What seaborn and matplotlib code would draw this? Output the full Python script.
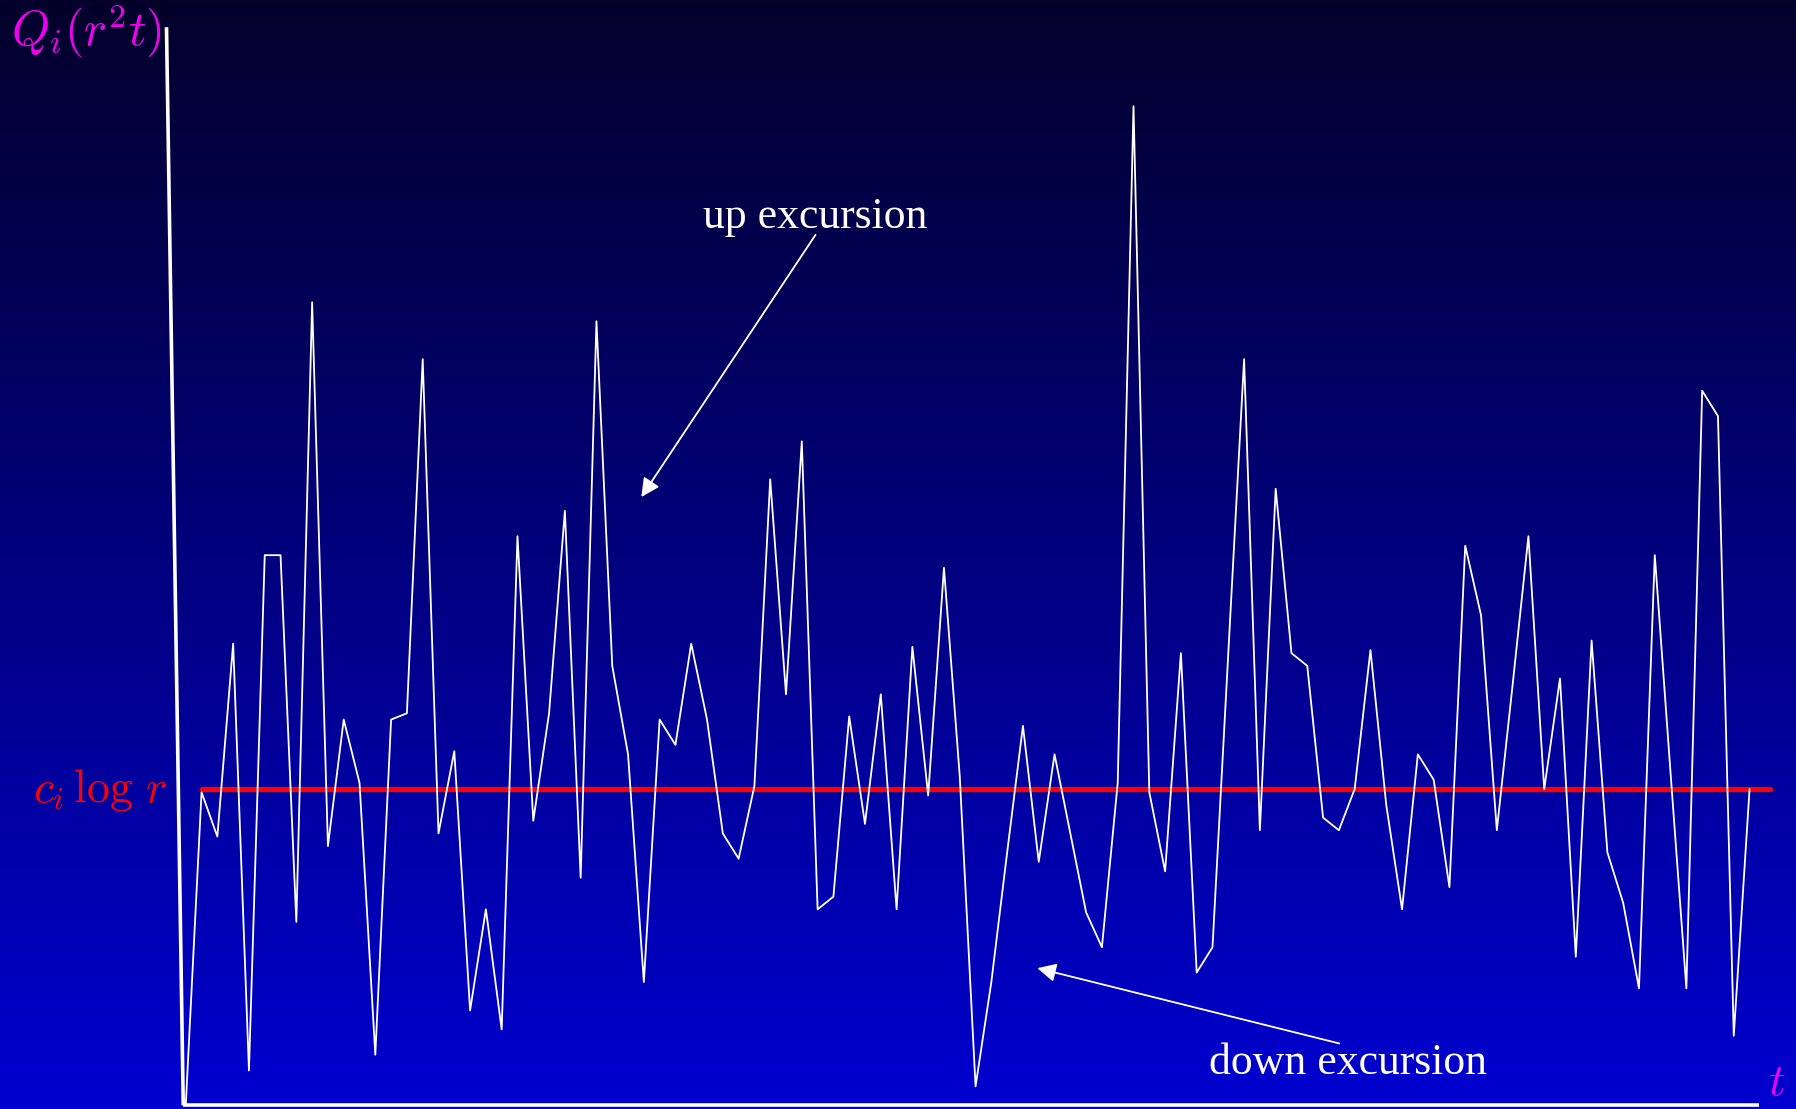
import matplotlib
matplotlib.use("Agg")
import matplotlib.pyplot as plt
import seaborn as sns
import numpy as np
from matplotlib.colors import LinearSegmentedColormap

# Sample path Q_i(r^2 t) (arbitrary units, c_i log r = 100)
t = np.arange(100)
q = [0, 99, 85, 146, 11, 174, 174, 58, 254, 82,
     122, 102, 16, 122, 124, 236, 86, 112, 30, 62,
     24, 180, 90, 124, 188, 72, 248, 139, 111, 39,
     122, 114, 146, 122, 86, 78, 101, 198, 130, 210,
     62, 66, 123, 89, 130, 62, 145, 98, 170, 104,
     6, 39, 80, 120, 77, 111, 86, 61, 50, 102,
     316, 99, 74, 143, 42, 50, 143, 236, 87, 195,
     143, 139, 91, 87, 100, 144, 95, 62, 111, 103,
     69, 177, 155, 87, 133, 180, 100, 135, 47, 147,
     80, 64, 37, 174, 105, 37, 226, 218, 22, 100]
level = 100          # c_i log r
level_span = (1.0, 100.3)

# Axis limits (axes fill the whole figure)
x_min, x_max = -11.76, 101.94
y_min, y_max = -1.17, 349.6
yaxis_x = (-1.22, -0.16)
yaxis_top = 341
xaxis_end = 99.6

sns.set_style("white")
plt.rcParams["mathtext.fontset"] = "cm"

fig = plt.figure(figsize=(17.96, 11.09), dpi=100)
ax = fig.add_axes([0, 0, 1, 1])

# vertical gradient background
cmap = LinearSegmentedColormap.from_list("bg", ["#0000d0", "#03002a"])
grad = np.linspace(0, 1, 256).reshape(-1, 1)
ax.imshow(grad, cmap=cmap, aspect="auto", origin="lower",
          extent=(x_min, x_max, y_min, y_max), zorder=0)

# axes drawn by hand
ax.plot(yaxis_x, [yaxis_top, 0], color="white", lw=2.6, zorder=3,
        solid_capstyle="butt")
ax.plot([yaxis_x[1], xaxis_end], [0, 0], color="white", lw=2.6, zorder=3,
        solid_capstyle="butt")

# level line
ax.plot(level_span, [level, level], color="#ff0000", lw=3.8, zorder=2,
        solid_capstyle="round")

# the path
sns.lineplot(x=t, y=q, color="white", lw=1.3, ax=ax, zorder=4)

ax.set_xlim(x_min, x_max)
ax.set_ylim(y_min, y_max)
ax.axis("off")

# labels
ax.text(0.0064, 0.9594, r"$Q_i(r^2t)$", color="#f000f0", fontsize=35,
        ha="left", va="baseline", transform=ax.transAxes)
ax.text(0.093, 0.2777, r"$c_i\,\log\,r$", color="#ff0000", fontsize=33,
        ha="right", va="baseline", transform=ax.transAxes)
ax.text(0.9844, 0.0126, r"$t$", color="#f000f0", fontsize=33,
        ha="left", va="baseline", transform=ax.transAxes)

# annotations
ax.text(0.4541, 0.7944, "up excursion", color="white", fontsize=31.5,
        family="Liberation Serif", ha="center", va="baseline",
        transform=ax.transAxes)
ax.annotate("", xy=(0.3571, 0.5518), xytext=(0.4541, 0.7883),
            xycoords="axes fraction", textcoords="axes fraction",
            arrowprops=dict(arrowstyle="-|>", color="white", lw=1.3,
                            mutation_scale=28, shrinkA=0, shrinkB=0))
ax.text(0.7506, 0.0315, "down excursion", color="white", fontsize=31.5,
        family="Liberation Serif", ha="center", va="baseline",
        transform=ax.transAxes)
ax.annotate("", xy=(0.5776, 0.1270), xytext=(0.7457, 0.0591),
            xycoords="axes fraction", textcoords="axes fraction",
            arrowprops=dict(arrowstyle="-|>", color="white", lw=1.3,
                            mutation_scale=28, shrinkA=0, shrinkB=0))

fig.savefig("out.png", dpi=100)
